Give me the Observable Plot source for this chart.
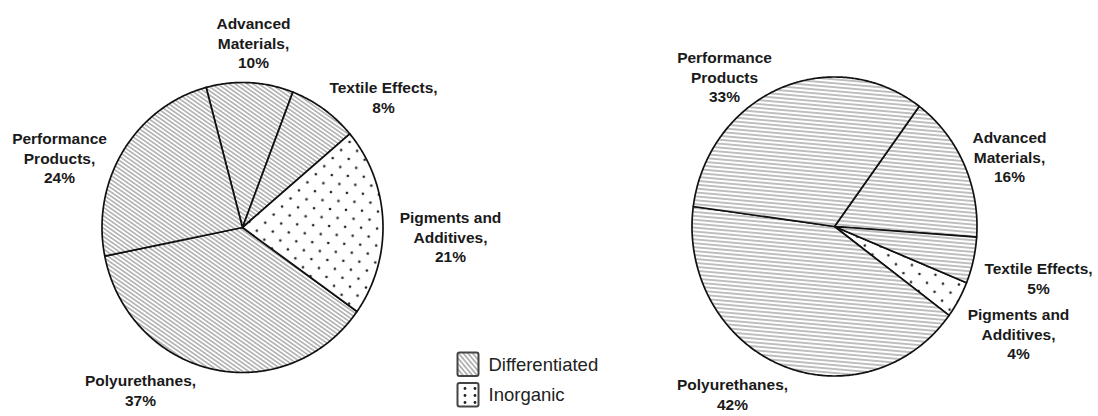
<!DOCTYPE html>
<html>
<head>
<meta charset="utf-8">
<script src="https://cdn.jsdelivr.net/npm/d3@7"></script>
<script src="https://cdn.jsdelivr.net/npm/@observablehq/plot@0.6"></script>
<style>
  html, body { margin: 0; padding: 0; background: #fff; }
  #chart svg { display: block; }
</style>
</head>
<body>
<svg width="0" height="0" style="position:absolute">
  <defs>
    <pattern id="hatchL" patternUnits="userSpaceOnUse" width="10" height="3.4" patternTransform="rotate(35)">
      <rect width="10" height="3.4" fill="#fff"/>
      <line x1="0" y1="1.7" x2="10" y2="1.7" stroke="#8c8c8c" stroke-width="1.1"/>
    </pattern>
    <pattern id="hatchR" patternUnits="userSpaceOnUse" width="10" height="3.9" patternTransform="rotate(5)">
      <rect width="10" height="3.9" fill="#fff"/>
      <line x1="0" y1="1.95" x2="10" y2="1.95" stroke="#8c8c8c" stroke-width="1.1"/>
    </pattern>
    <pattern id="hatchLeg" patternUnits="userSpaceOnUse" width="10" height="3.6" patternTransform="rotate(50)">
      <rect width="10" height="3.6" fill="#fff"/>
      <line x1="0" y1="1.8" x2="10" y2="1.8" stroke="#8c8c8c" stroke-width="1.2"/>
    </pattern>
    <pattern id="dots" patternUnits="userSpaceOnUse" width="16" height="17" patternTransform="rotate(3)">
      <rect width="16" height="17" fill="#fff"/>
      <circle cx="4" cy="4" r="1.3" fill="#222"/>
      <circle cx="12" cy="12.5" r="1.3" fill="#222"/>
    </pattern>
    <pattern id="dotsLeg" patternUnits="userSpaceOnUse" width="10" height="7">
      <rect width="10" height="7" fill="#fff"/>
      <circle cx="5" cy="3.5" r="1.4" fill="#222"/>
    </pattern>
  </defs>
</svg>
<div id="chart"></div>
<script>
// ---- data ----
const segments = ["Advanced Materials", "Textile Effects", "Pigments and Additives", "Polyurethanes", "Performance Products"];
const segmentType = ["Differentiated", "Differentiated", "Inorganic", "Differentiated", "Differentiated"];
const sharesLeft = [10, 8, 21, 37, 24];
const sharesRight = [16, 5, 4, 42, 33];
const labelsLeft = ["Advanced\nMaterials,\n10%", "Textile Effects,\n8%", "Pigments and\nAdditives,\n21%", "Polyurethanes,\n37%", "Performance\nProducts,\n24%"];
const labelsRight = ["Advanced\nMaterials,\n16%", "Textile Effects,\n5%", "Pigments and\nAdditives,\n4%", "Polyurethanes,\n42%", "Performance\nProducts\n33%"];
const legendKeys = ["Differentiated", "Inorganic"];

// ---- layout (pixel-space units) ----
const W = 1098, H = 416;
const pies = [
  {shares: sharesLeft, labels: labelsLeft, cx: 242, cy: 227, rx: 140.5, ry: 145, startDeg: -15,
   hatch: "url(#hatchL)", labelX: [253, 383, 450, 140, 59], labelY: [42, 96, 236, 389, 157]},
  {shares: sharesRight, labels: labelsRight, cx: 834, cy: 226, rx: 142.5, ry: 149.5, startDeg: 36.5,
   hatch: "url(#hatchR)", labelX: [1009, 1038, 1018, 732, 724], labelY: [156, 277, 333, 393, 76]}
];
const legendLayout = {x: 457.5, y: 352.5, boxW: 21, boxH: 23.5, step: 30.5, textX: 488};

// ---- build slice polygons from the shares ----
const slicePoints = [];
const labelRows = [];
pies.forEach((p, pi) => {
  const s0 = p.startDeg * Math.PI / 180;
  const arcs = d3.pie().sort(null).startAngle(s0).endAngle(s0 + 2 * Math.PI)(p.shares);
  arcs.forEach((a, i) => {
    const key = pi + "-" + i;
    const type = segmentType[i];
    const fill = type === "Inorganic" ? "url(#dots)" : p.hatch;
    const pt = (ang) => ({key, fill, x: p.cx + p.rx * Math.sin(ang), y: p.cy - p.ry * Math.cos(ang)});
    slicePoints.push({key, fill, x: p.cx, y: p.cy});
    const n = Math.max(2, Math.ceil((a.endAngle - a.startAngle) / (Math.PI / 360)));
    for (let k = 0; k <= n; k++) slicePoints.push(pt(a.startAngle + (a.endAngle - a.startAngle) * k / n));
    slicePoints.push({key, fill, x: p.cx, y: p.cy});
    labelRows.push({text: p.labels[i], x: p.labelX[i], y: p.labelY[i], segment: segments[i]});
  });
});

const fills = Array.from(new Set(slicePoints.map(d => d.fill)));
const sliceMarks = fills.map(f => Plot.line(slicePoints.filter(d => d.fill === f), {
  x: "x", y: "y", z: "key", fill: f, stroke: "#111", strokeWidth: 1.7, strokeLinejoin: "round", curve: "linear"
}));

const legendRows = legendKeys.map((k, i) => ({
  key: k,
  x1: legendLayout.x, x2: legendLayout.x + legendLayout.boxW,
  y1: legendLayout.y + i * legendLayout.step, y2: legendLayout.y + i * legendLayout.step + legendLayout.boxH,
  tx: legendLayout.textX, ty: legendLayout.y + i * legendLayout.step + legendLayout.boxH / 2
}));

const chart = Plot.plot({
  width: W, height: H,
  marginTop: 0, marginRight: 0, marginBottom: 0, marginLeft: 0,
  x: {domain: [0, W], range: [0, W], axis: null},
  y: {domain: [0, H], range: [0, H], axis: null},
  style: {fontFamily: "'Liberation Sans', Arial, Helvetica, sans-serif", background: "#fff", color: "#111"},
  marks: [
    ...sliceMarks,
    Plot.text(labelRows, {x: "x", y: "y", text: "text", fontSize: 15.5, fontWeight: "bold", lineHeight: 1.27,
      textAnchor: "middle", fill: "#1a1a1a"}),
    Plot.rect(legendRows.filter(d => d.key === "Differentiated"), {x1: "x1", x2: "x2", y1: "y1", y2: "y2",
      fill: "url(#hatchLeg)", stroke: "#444", strokeWidth: 2, rx: 2}),
    Plot.rect(legendRows.filter(d => d.key === "Inorganic"), {x1: "x1", x2: "x2", y1: "y1", y2: "y2",
      fill: "url(#dotsLeg)", stroke: "#444", strokeWidth: 2, rx: 2}),
    Plot.text(legendRows, {x: "tx", y: "ty", text: "key", fontSize: 18.5, textAnchor: "start", fill: "#222"})
  ]
});
document.getElementById("chart").appendChild(chart);
</script>
</body>
</html>
